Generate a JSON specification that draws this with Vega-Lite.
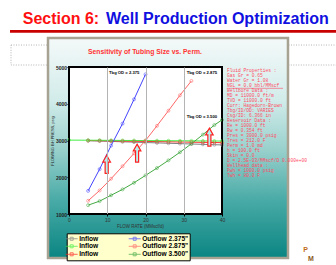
{
  "$schema": "https://vega.github.io/schema/vega-lite/v6.json",
  "width": 153,
  "height": 147,
  "autosize": "none",
  "padding": {"left": 69, "top": 67, "right": 114, "bottom": 51},
  "background": "white",
  "config": {"view": {"stroke": null}, "font": "Liberation Sans"},
  "resolve": {"axis": {"x": "independent", "y": "independent"}},
  "datasets": {
    "curves": [
      {"curve": "Inflow 1", "rate": 5, "pwf": 2992}, {"curve": "Inflow 1", "rate": 8, "pwf": 2985}, {"curve": "Inflow 1", "rate": 11, "pwf": 2975}, {"curve": "Inflow 1", "rate": 14, "pwf": 2965}, {"curve": "Inflow 1", "rate": 17, "pwf": 2955}, {"curve": "Inflow 1", "rate": 20, "pwf": 2945}, {"curve": "Inflow 1", "rate": 23, "pwf": 2935}, {"curve": "Inflow 1", "rate": 26, "pwf": 2925}, {"curve": "Inflow 1", "rate": 29, "pwf": 2915}, {"curve": "Inflow 1", "rate": 32, "pwf": 2905}, {"curve": "Inflow 1", "rate": 35, "pwf": 2895}, {"curve": "Inflow 1", "rate": 38, "pwf": 2885}, {"curve": "Inflow 1", "rate": 40, "pwf": 2880},
      {"curve": "Inflow 3", "rate": 5, "pwf": 3000}, {"curve": "Inflow 3", "rate": 8, "pwf": 2995}, {"curve": "Inflow 3", "rate": 11, "pwf": 2990}, {"curve": "Inflow 3", "rate": 14, "pwf": 2985}, {"curve": "Inflow 3", "rate": 17, "pwf": 2980}, {"curve": "Inflow 3", "rate": 20, "pwf": 2975}, {"curve": "Inflow 3", "rate": 23, "pwf": 2970}, {"curve": "Inflow 3", "rate": 26, "pwf": 2965}, {"curve": "Inflow 3", "rate": 29, "pwf": 2960}, {"curve": "Inflow 3", "rate": 32, "pwf": 2955}, {"curve": "Inflow 3", "rate": 35, "pwf": 2950}, {"curve": "Inflow 3", "rate": 38, "pwf": 2945}, {"curve": "Inflow 3", "rate": 40, "pwf": 2940},
      {"curve": "Inflow 2", "rate": 0, "pwf": 3010}, {"curve": "Inflow 2", "rate": 5, "pwf": 3008}, {"curve": "Inflow 2", "rate": 8, "pwf": 3006}, {"curve": "Inflow 2", "rate": 11, "pwf": 3004}, {"curve": "Inflow 2", "rate": 14, "pwf": 3002}, {"curve": "Inflow 2", "rate": 17, "pwf": 3000}, {"curve": "Inflow 2", "rate": 20, "pwf": 2998}, {"curve": "Inflow 2", "rate": 23, "pwf": 2996}, {"curve": "Inflow 2", "rate": 26, "pwf": 2994}, {"curve": "Inflow 2", "rate": 29, "pwf": 2992}, {"curve": "Inflow 2", "rate": 32, "pwf": 2990}, {"curve": "Inflow 2", "rate": 35, "pwf": 2988}, {"curve": "Inflow 2", "rate": 38, "pwf": 2986}, {"curve": "Inflow 2", "rate": 40, "pwf": 2985},
      {"curve": "Outflow 2.375\"", "rate": 5, "pwf": 1630}, {"curve": "Outflow 2.375\"", "rate": 8, "pwf": 2220}, {"curve": "Outflow 2.375\"", "rate": 11, "pwf": 2860}, {"curve": "Outflow 2.375\"", "rate": 14, "pwf": 3460}, {"curve": "Outflow 2.375\"", "rate": 17, "pwf": 4120}, {"curve": "Outflow 2.375\"", "rate": 20, "pwf": 4800},
      {"curve": "Outflow 2.875\"", "rate": 5, "pwf": 1360}, {"curve": "Outflow 2.875\"", "rate": 8, "pwf": 1640}, {"curve": "Outflow 2.875\"", "rate": 11, "pwf": 1960}, {"curve": "Outflow 2.875\"", "rate": 14, "pwf": 2300}, {"curve": "Outflow 2.875\"", "rate": 17, "pwf": 2650}, {"curve": "Outflow 2.875\"", "rate": 20, "pwf": 3000}, {"curve": "Outflow 2.875\"", "rate": 23, "pwf": 3400}, {"curve": "Outflow 2.875\"", "rate": 26, "pwf": 3810}, {"curve": "Outflow 2.875\"", "rate": 29, "pwf": 4230}, {"curve": "Outflow 2.875\"", "rate": 32, "pwf": 4620},
      {"curve": "Outflow 3.500\"", "rate": 5, "pwf": 1240}, {"curve": "Outflow 3.500\"", "rate": 8, "pwf": 1350}, {"curve": "Outflow 3.500\"", "rate": 11, "pwf": 1510}, {"curve": "Outflow 3.500\"", "rate": 14, "pwf": 1670}, {"curve": "Outflow 3.500\"", "rate": 17, "pwf": 1850}, {"curve": "Outflow 3.500\"", "rate": 20, "pwf": 2050}, {"curve": "Outflow 3.500\"", "rate": 23, "pwf": 2250}, {"curve": "Outflow 3.500\"", "rate": 26, "pwf": 2460}, {"curve": "Outflow 3.500\"", "rate": 29, "pwf": 2680}, {"curve": "Outflow 3.500\"", "rate": 32, "pwf": 2910}, {"curve": "Outflow 3.500\"", "rate": 35, "pwf": 3160}, {"curve": "Outflow 3.500\"", "rate": 38, "pwf": 3420}, {"curve": "Outflow 3.500\"", "rate": 40, "pwf": 3560}
    ],
    "arrows": [
      {"rate": 9.85, "pwf": 2352},
      {"rate": 17.8, "pwf": 2656},
      {"rate": 36.7, "pwf": 3091}
    ],
    "labels": [
      {"rate": 10.46, "pwf": 4828, "label": "Tbg OD = 2.375"},
      {"rate": 30.77, "pwf": 4828, "label": "Tbg OD = 2.875"},
      {"rate": 30.77, "pwf": 3631, "label": "Tbg OD = 3.500"}
    ]
  },
  "layer": [
    {
      "data": {"values": [{}]},
      "mark": {"type": "rect", "fill": "transparent", "stroke": "#b4b4b4", "strokeWidth": 1, "strokeDash": [1, 1.5]},
      "encoding": {
        "x": {"datum": -15.16, "type": "quantitative", "axis": null},
        "x2": {"datum": 72.2},
        "y": {"datum": 5598, "type": "quantitative", "axis": null},
        "y2": {"datum": 5054}
      }
    },
    {
      "data": {"values": [{}]},
      "mark": {"type": "rule", "color": "#c80000", "strokeWidth": 2.7},
      "encoding": {
        "x": {"datum": -15.42, "type": "quantitative", "axis": null},
        "x2": {"datum": 69.8},
        "y": {"datum": 5971, "type": "quantitative", "axis": null}
      }
    },
    {
      "data": {"values": [{}]},
      "mark": {"type": "text", "text": "Section 6:", "align": "left", "baseline": "alphabetic", "fontSize": 16, "fontWeight": "bold", "color": "#ff1010"},
      "encoding": {
        "x": {"datum": -12.1, "type": "quantitative", "axis": null},
        "y": {"datum": 6170, "type": "quantitative", "axis": null}
      }
    },
    {
      "data": {"values": [{}]},
      "mark": {"type": "text", "text": "Well Production Optimization", "align": "left", "baseline": "alphabetic", "fontSize": 16, "fontWeight": "bold", "color": "#1010e0"},
      "encoding": {
        "x": {"datum": 9.67, "type": "quantitative", "axis": null},
        "y": {"datum": 6170, "type": "quantitative", "axis": null}
      }
    },
    {
      "data": {"values": [{}]},
      "mark": {
        "type": "rect",
        "fill": {"gradient": "linear", "x1": 0, "y1": 0, "x2": 0, "y2": 1, "stops": [
          {"offset": 0, "color": "#f4f9f9"},
          {"offset": 0.28, "color": "#d2ecea"},
          {"offset": 0.51, "color": "#98d0cc"},
          {"offset": 0.74, "color": "#48aaa6"},
          {"offset": 1, "color": "#0a8582"}
        ]},
        "stroke": "#a8a292",
        "strokeWidth": 2.5
      },
      "encoding": {
        "x": {"datum": -5.49, "type": "quantitative", "axis": null},
        "x2": {"datum": 57.25},
        "y": {"datum": 5789, "type": "quantitative", "axis": null},
        "y2": {"datum": -197}
      }
    },
    {
      "data": {"values": [{}]},
      "mark": {"type": "text", "text": "Sensitivity of Tubing Size vs. Perm.", "align": "center", "baseline": "alphabetic", "fontSize": 6.8, "fontWeight": "bold", "color": "#ff3333"},
      "encoding": {
        "x": {"datum": 19.87, "type": "quantitative", "axis": null},
        "y": {"datum": 5354, "type": "quantitative", "axis": null}
      }
    },
    {
      "data": {"values": [{}]},
      "mark": {"type": "rect", "fill": "white", "stroke": "black", "strokeWidth": 2},
      "encoding": {
        "x": {"datum": 0, "type": "quantitative", "axis": null},
        "x2": {"datum": 40},
        "y": {"datum": 1000, "type": "quantitative", "axis": null},
        "y2": {"datum": 5000}
      }
    },
    {
      "data": {"name": "curves"},
      "mark": {"type": "line", "strokeWidth": 1},
      "encoding": {
        "x": {
          "field": "rate", "type": "quantitative",
          "scale": {"domain": [0, 40], "nice": false, "zero": false},
          "axis": {
            "title": "FLOW RATE      (MMscf/d)",
            "values": [0, 10, 20, 30, 40],
            "format": "d",
            "labelOverlap": false, "labelFlush": false,
            "labelFontSize": 5, "labelColor": "#333333", "labelPadding": 1,
            "tickSize": 2, "tickColor": "black", "domainColor": "black",
            "titleFontSize": 4.5, "titleFontWeight": "normal", "titleColor": "#333333", "titlePadding": 1, "titleX": 71,
            "grid": true,
            "gridColor": {"condition": {"test": "datum.value == 0 || datum.value == 40", "value": "black"}, "value": "#b4b4b4"},
            "zindex": 1
          }
        },
        "y": {
          "field": "pwf", "type": "quantitative",
          "scale": {"domain": [1000, 5000], "nice": false, "zero": false},
          "axis": {
            "title": "FLOWING BH PRESS, psig",
            "values": [1000, 2000, 3000, 4000, 5000],
            "format": "d",
            "labelOverlap": false, "labelFlush": false,
            "labelFontSize": 5, "labelFontWeight": "bold", "labelColor": "#222222", "labelPadding": 0.5,
            "tickSize": 2, "tickColor": "black", "domainColor": "black",
            "titleFontSize": 4, "titleFontWeight": "normal", "titleColor": "#222222", "titlePadding": 1,
            "grid": false,
            "zindex": 1
          }
        },
        "color": {
          "field": "curve", "type": "nominal",
          "scale": {
            "domain": ["Inflow 1", "Inflow 2", "Inflow 3", "Outflow 2.375\"", "Outflow 2.875\"", "Outflow 3.500\""],
            "range": ["#808080", "#44ee44", "#ff2a2a", "#4444ff", "#ff6666", "#44aa44"]
          },
          "legend": {
            "orient": "none", "legendX": -2.3, "legendY": 166.3,
            "columns": 2, "columnPadding": 27, "rowPadding": 0,
            "fillColor": "#ffffcc", "strokeColor": "black", "padding": 1.5,
            "title": null,
            "labelFontSize": 6.6, "labelFontWeight": "bold", "labelColor": "black",
            "labelExpr": "indexof(datum.label, 'Inflow') === 0 ? 'Inflow' : datum.label",
            "symbolType": "M-2,0H2M-0.5,-0.5H0.5V0.5H-0.5Z",
            "symbolSize": 36, "symbolStrokeWidth": 1, "labelOffset": 4
          }
        },
        "order": {"field": "rate", "type": "quantitative"}
      }
    },
    {
      "data": {"name": "curves"},
      "mark": {"type": "point", "filled": false, "size": 9, "strokeWidth": 0.8, "shape": "circle"},
      "encoding": {
        "x": {"field": "rate", "type": "quantitative", "axis": null},
        "y": {"field": "pwf", "type": "quantitative", "axis": null},
        "color": {"field": "curve", "type": "nominal"}
      }
    },
    {
      "data": {"name": "arrows"},
      "mark": {"type": "point", "shape": "M0,-1L0.42,-0.25L0.17,-0.25L0.17,1L-0.17,1L-0.17,-0.25L-0.42,-0.25Z", "size": 324, "filled": true, "fill": "#b8f0f0", "stroke": "#ff2020", "strokeWidth": 1.2, "opacity": 1},
      "encoding": {
        "x": {"field": "rate", "type": "quantitative", "axis": null},
        "y": {"field": "pwf", "type": "quantitative", "axis": null}
      }
    },
    {
      "data": {"name": "labels"},
      "mark": {"type": "text", "align": "left", "baseline": "middle", "fontSize": 4.2, "fontWeight": "bold", "color": "black"},
      "encoding": {
        "x": {"field": "rate", "type": "quantitative", "axis": null},
        "y": {"field": "pwf", "type": "quantitative", "axis": null},
        "text": {"field": "label"}
      }
    },
    {
      "data": {"values": [{}]},
      "mark": {"type": "text", "align": "left", "baseline": "alphabetic", "font": "Liberation Mono", "fontSize": 4.6, "lineHeight": 5, "color": "#ff4a64"},
      "encoding": {
        "x": {"datum": 41.3, "type": "quantitative", "axis": null},
        "y": {"datum": 4856, "type": "quantitative", "axis": null},
        "text": {"value": [
          "Fluid Properties :",
          "Gas Gr   =   0.65",
          "Water Gr =   1.08",
          "NGL  =  0.0 bbl/MMscf",
          "",
          "Wellbore Data :",
          "MD  = 11000.0 ft/m",
          "TVD = 11000.0 ft",
          "Corr: Hagedorn-Brown",
          "Tbg/ID/OD: VARIES",
          "Csg/ID: 6.366 in",
          "",
          "Reservoir Data :",
          "Re   =  1000.0 ft",
          "Rw   =  0.354 ft",
          "Pres =  3000.0 psig",
          "Tres =  212.0 F",
          "Perm =  1.0 md",
          "h    =  100.0 ft",
          "Skin =  0.0",
          "  D = 2.5E-03/MMscf/D 0.000e+00",
          "Wellhead data :",
          "Pwh  =  1000.0 psig",
          "Twh  =  80.0 F"
        ]}
      }
    },
    {
      "data": {"values": [{}]},
      "mark": {"type": "rule", "color": "#ff4a64", "strokeWidth": 0.6},
      "encoding": {
        "x": {"datum": 41.3, "type": "quantitative", "axis": null},
        "x2": {"datum": 55.95},
        "y": {"datum": 4420, "type": "quantitative", "axis": null}
      }
    },
    {
      "data": {"values": [{}]},
      "mark": {"type": "text", "text": "P", "align": "center", "baseline": "middle", "fontSize": 7, "fontWeight": "bold", "color": "#c06a18"},
      "encoding": {
        "x": {"datum": 61.83, "type": "quantitative", "axis": null},
        "y": {"datum": 20, "type": "quantitative", "axis": null}
      }
    },
    {
      "data": {"values": [{}]},
      "mark": {"type": "text", "text": "M", "align": "center", "baseline": "middle", "fontSize": 7, "fontWeight": "bold", "color": "#8a5a20"},
      "encoding": {
        "x": {"datum": 63.27, "type": "quantitative", "axis": null},
        "y": {"datum": -224, "type": "quantitative", "axis": null}
      }
    }
  ]
}
